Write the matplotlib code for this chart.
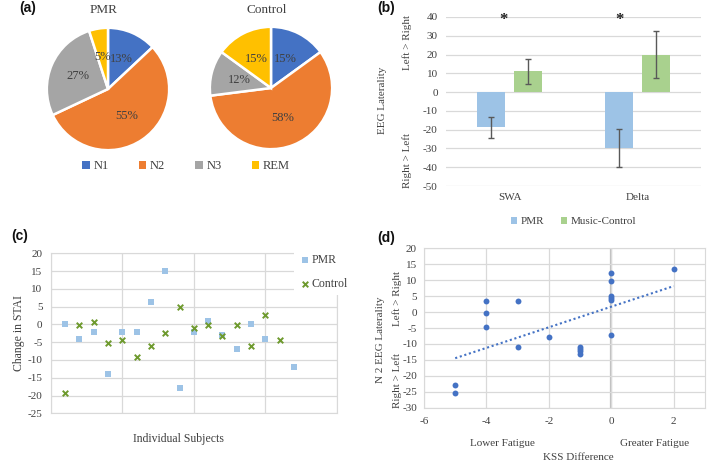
import numpy as np
import matplotlib
matplotlib.use("Agg")
import matplotlib.pyplot as plt
from matplotlib.patches import Patch

# ---------------- data ----------------
stages = ["N1", "N2", "N3", "REM"]
pmr_stage_pct = [13, 55, 27, 5]
control_stage_pct = [15, 58, 12, 15]

bands = ["SWA", "Delta"]
pmr_laterality = [-18.7, -29.8]
pmr_laterality_err = [5.5, 10.2]
music_laterality = [11.0, 20.0]
music_laterality_err = [6.7, 12.5]

pmr_subject = [1, 2, 3, 4, 5, 6, 7, 8, 9, 10, 11, 12, 13, 14, 15, 17]
pmr_stai = [0, -4, -2, -14, -2, -2, 6.2, 15.1, -17.9, -2, 1, -3, -7, 0, -4, -12]
control_subject = [1, 2, 3, 4, 5, 6, 7, 8, 9, 10, 11, 12, 13, 14, 15, 16]
control_stai = [-19.3, -0.3, 0.7, -5.2, -4.3, -9.3, -6.1, -2.3, 4.9, -1.1, -0.3, -3.2, -0.2, -6.1, 2.7, -4.3]

kss_diff = [-5, -5, -4, -4, -4, -3, -3, -2, -1, -1, -1, -1, 0, 0, 0, 0, 0, 0, 2]
n2_laterality = [-23.0, -25.3, 3.5, -0.2, -4.6, 3.5, -10.9, -7.8, -11.0, -11.6, -12.3,
                 -13.2, 12.2, 9.6, 5.1, 4.5, 3.8, -7.1, 13.5]

# ---------------- style ----------------
W, H = 709, 470
SERIF = ["Liberation Serif", "DejaVu Serif"]
SANS = ["Liberation Sans", "DejaVu Sans"]
plt.rcParams["font.family"] = SERIF
plt.rcParams["axes.unicode_minus"] = False
GRID = "#D9D9D9"
TXT = "#404040"
FS = 8
stage_colors = ["#4472C4", "#ED7D31", "#A5A5A5", "#FFC000"]
c_pmr = "#9DC3E6"
c_music = "#A9D18E"

fig = plt.figure(figsize=(W / 100, H / 100), dpi=100)


def ax_px(l, t, r, b):
    return fig.add_axes([l / W, 1 - b / H, (r - l) / W, (b - t) / H])


def T(x, y, s, **kw):
    return fig.text(x / W, 1 - y / H, s, **kw)


# ---------------- (a) pies ----------------
for (cx, cy, vals, title) in [(108, 89, pmr_stage_pct, "PMR"),
                               (271, 88, control_stage_pct, "Control")]:
    r = 63
    ax = ax_px(cx - r, cy - r, cx + r, cy + r)
    ax.pie(vals, colors=stage_colors, startangle=90, counterclock=False,
           autopct=lambda p: f"{p:.0f}%", pctdistance=0.53,
           wedgeprops=dict(edgecolor="white", linewidth=1.8),
           textprops=dict(fontsize=9, color=TXT, family=SERIF))
    ax.set_xlim(-1.03, 1.03)
    ax.set_ylim(-1.03, 1.03)
    ax.set_aspect("equal")
    T(cx - 4, 10, title, ha="center", va="center", fontsize=9.5, color=TXT)

handles = [Patch(facecolor=c, edgecolor="none") for c in stage_colors]
fig.legend(handles, stages, loc="center", bbox_to_anchor=(186 / W, 1 - 166 / H),
           ncol=4, frameon=False, fontsize=9, handlelength=0.6, handleheight=0.6,
           handletextpad=0.3, columnspacing=2.4, labelcolor=TXT)

# ---------------- (b) bars ----------------
axb = ax_px(446, 17, 701, 186)
x = np.arange(len(bands))
bw = 0.22
ekw = dict(ecolor="#595959", elinewidth=1, capsize=2.5, capthick=1)
axb.bar(x - 0.145, pmr_laterality, bw, color=c_pmr, label="PMR", zorder=3,
        yerr=pmr_laterality_err, error_kw=ekw)
axb.bar(x + 0.145, music_laterality, bw, color=c_music, label="Music-Control", zorder=3,
        yerr=music_laterality_err, error_kw=ekw)
axb.set_xlim(-0.5, 1.5)
axb.set_ylim(-50, 40)
axb.set_yticks(np.arange(-50, 41, 10))
axb.yaxis.grid(True, color=GRID, linewidth=0.9, zorder=0)
axb.set_axisbelow(True)
for s in axb.spines.values():
    s.set_visible(False)
axb.tick_params(length=0, labelsize=FS, colors=TXT, pad=6)
axb.set_xticks(x)
axb.set_xticklabels(bands, fontsize=FS)
axb.tick_params(axis="x", pad=5)
axb.text(-0.05, 38.5, "*", ha="center", va="center", fontsize=12, fontweight="bold", color="#202020")
axb.text(0.86, 38.5, "*", ha="center", va="center", fontsize=12, fontweight="bold", color="#202020")
axb.legend(loc="center", bbox_to_anchor=(0.5, -0.21), ncol=2, frameon=False, fontsize=FS,
           handlelength=0.6, handleheight=0.6, handletextpad=0.3, columnspacing=1.5, labelcolor=TXT)
T(382, 100, "EEG Laterality", rotation=90, ha="center", va="center", fontsize=FS, color=TXT)
T(407, 43, "Left > Right", rotation=90, ha="center", va="center", fontsize=FS, color=TXT)
T(407, 160, "Right > Left", rotation=90, ha="center", va="center", fontsize=FS, color=TXT)

# ---------------- (c) scatter ----------------
axc = ax_px(50.7, 253.3, 337, 413.3)
axc.scatter(pmr_subject, pmr_stai, marker="s", s=16, color=c_pmr, label="PMR", zorder=3, linewidths=0)
axc.scatter(control_subject, control_stai, marker="x", s=16, color="#6E9A2E", label="Control",
            zorder=3, linewidths=1.4)
axc.set_xlim(0, 20)
axc.set_ylim(-25, 20)
axc.set_xticks([0, 5, 10, 15, 20])
axc.set_xticklabels([])
axc.set_yticks(np.arange(-25, 21, 5))
axc.grid(True, color=GRID, linewidth=0.9, zorder=0)
for s in axc.spines.values():
    s.set_color(GRID)
axc.tick_params(length=0, labelsize=FS, colors=TXT, pad=6)
leg = axc.legend(loc="upper left", bbox_to_anchor=(0.83, 1.06), frameon=True, fontsize=8.5,
                 handletextpad=0.1, labelspacing=1.0, borderpad=0.4, handlelength=1.0,
                 labelcolor=TXT, fancybox=False)
leg.get_frame().set_edgecolor("none")
leg.get_frame().set_facecolor("white")
leg.get_frame().set_alpha(1)
T(19, 333, "Change in STAI", rotation=90, ha="center", va="center", fontsize=8.5, color=TXT)
T(178, 439, "Individual Subjects", ha="center", va="center", fontsize=8.5, color=TXT)

# ---------------- (d) regression ----------------
axd = ax_px(424, 248.3, 705, 407.7)
axd.scatter(kss_diff, n2_laterality, s=18, color="#4472C4", zorder=3, linewidths=0)
slope, intercept = np.polyfit(kss_diff, n2_laterality, 1)
xs = np.array([min(kss_diff), max(kss_diff)])
axd.plot(xs, slope * xs + intercept, linestyle=(0, (1, 1.3)), color="#4472C4", linewidth=1.5, zorder=2)
axd.set_xlim(-6, 3)
axd.set_ylim(-30, 20)
axd.set_xticks([-6, -4, -2, 0, 2])
axd.set_yticks(np.arange(-30, 21, 5))
axd.grid(True, color=GRID, linewidth=0.9, zorder=0)
axd.axvline(0, color="#BFBFBF", linewidth=1.6, zorder=1)
for s in axd.spines.values():
    s.set_color(GRID)
axd.tick_params(length=0, labelsize=FS, colors=TXT, pad=5)
axd.tick_params(axis="x", pad=7)
T(502, 443, "Lower Fatigue", ha="center", va="center", fontsize=FS, color=TXT)
T(655, 443, "Greater Fatigue", ha="center", va="center", fontsize=FS, color=TXT)
T(578, 457, "KSS Difference", ha="center", va="center", fontsize=FS, color=TXT)
T(380, 340, "N 2 EEG Laterality", rotation=90, ha="center", va="center", fontsize=FS, color=TXT)
T(397, 298, "Left > Right", rotation=90, ha="center", va="center", fontsize=FS, color=TXT)
T(397, 380, "Right > Left", rotation=90, ha="center", va="center", fontsize=FS, color=TXT)

# ---------------- panel labels ----------------
for (px, py, lab) in [(28, 8, "(a)"), (386, 8, "(b)"), (20, 236, "(c)"), (386, 238, "(d)")]:
    T(px, py, lab, ha="center", va="center", fontsize=10, fontweight="bold", family=SANS, color="#111111")

fig.savefig("out.png", dpi=100)
